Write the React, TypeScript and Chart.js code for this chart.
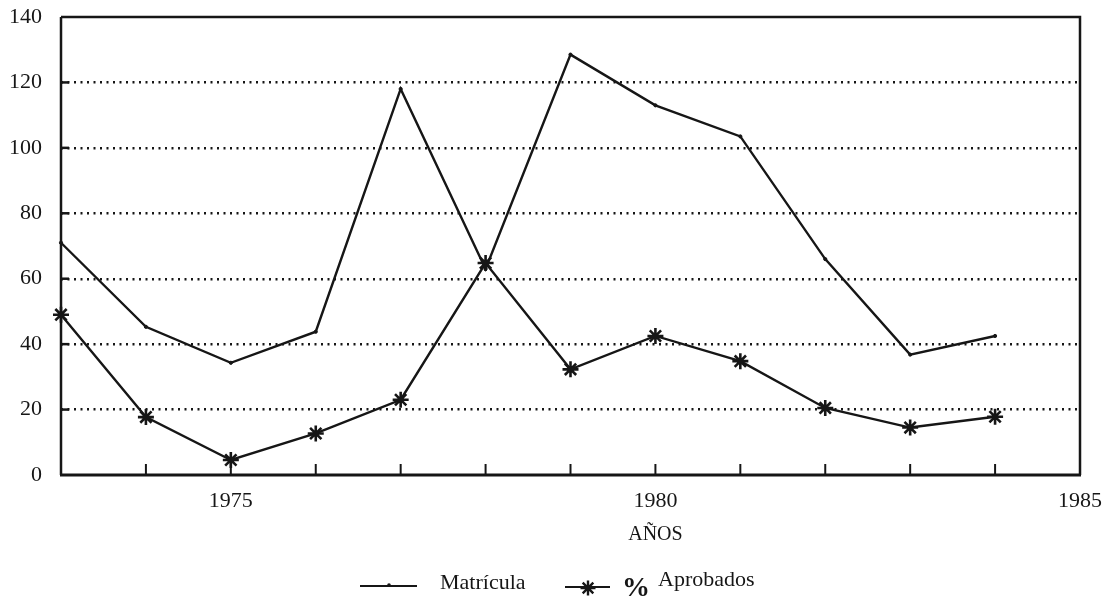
import { useEffect, useRef } from 'react';
import { Chart, registerables } from 'chart.js';

Chart.register(...registerables);

// ---- data ----
const years = [1973, 1974, 1975, 1976, 1977, 1978, 1979, 1980, 1981, 1982, 1983, 1984];
const matricula = [71, 45.3, 34.3, 43.8, 118, 63, 128.5, 113, 103.5, 66, 36.8, 42.5];
const aprobados = [49, 17.7, 4.6, 12.7, 23, 64.8, 32.3, 42.5, 34.8, 20.5, 14.5, 17.8];
const xLabeledTicks = [1975, 1980, 1985];
const xRange = [1973, 1985];
const yRange = [0, 140];
const yStep = 20;
const xTitle = 'AÑOS';
const seriesNames = ['Matrícula', 'Aprobados'];

const FONT = "'Liberation Serif', 'Times New Roman', serif";
const INK = '#161616';

function drawAsterisk(ctx: CanvasRenderingContext2D, x: number, y: number, r: number) {
  ctx.beginPath();
  for (let i = 0; i < 4; i++) {
    const a = (i * Math.PI) / 4;
    ctx.moveTo(x - r * Math.cos(a), y - r * Math.sin(a));
    ctx.lineTo(x + r * Math.cos(a), y + r * Math.sin(a));
  }
  ctx.stroke();
}

const framePlugin = {
  id: 'frame',
  beforeDatasetsDraw(chart: any) {
    const { ctx, chartArea } = chart;
    const { left, right, top, bottom } = chartArea;
    const xs = chart.scales.x;
    const ys = chart.scales.y;
    ctx.save();
    ctx.strokeStyle = INK;
    ctx.lineCap = 'butt';
    ctx.lineWidth = 2.5;
    ctx.beginPath();
    ctx.moveTo(left, top);
    ctx.lineTo(right, top);
    ctx.lineTo(right, bottom);
    ctx.stroke();
    ctx.lineWidth = 2.5;
    ctx.beginPath();
    ctx.moveTo(left, top);
    ctx.lineTo(left, bottom);
    ctx.stroke();
    ctx.lineWidth = 3;
    ctx.beginPath();
    ctx.moveTo(left - 1, bottom);
    ctx.lineTo(right + 1, bottom);
    ctx.stroke();
    ctx.lineWidth = 2;
    for (let yr = xRange[0] + 1; yr < xRange[1]; yr++) {
      const px = xs.getPixelForValue(yr);
      ctx.beginPath();
      ctx.moveTo(px, bottom);
      ctx.lineTo(px, bottom - 11);
      ctx.stroke();
    }
    ctx.lineWidth = 2.5;
    for (let v = yRange[0] + yStep; v < yRange[1]; v += yStep) {
      const py = ys.getPixelForValue(v);
      ctx.beginPath();
      ctx.moveTo(left, py);
      ctx.lineTo(left + 8, py);
      ctx.stroke();
    }
    ctx.restore();
  },
  afterDraw(chart: any) {
    const { ctx } = chart;
    const xs = chart.scales.x;
    ctx.save();
    ctx.fillStyle = INK;
    ctx.strokeStyle = INK;
    ctx.font = `20px ${FONT}`;
    ctx.textAlign = 'center';
    ctx.textBaseline = 'middle';
    ctx.fillText(xTitle, xs.getPixelForValue(1980), 535);

    ctx.lineWidth = 2.2;
    ctx.beginPath();
    ctx.moveTo(360, 586);
    ctx.lineTo(417, 586);
    ctx.stroke();
    ctx.beginPath();
    ctx.arc(389, 585, 1.8, 0, Math.PI * 2);
    ctx.fill();
    ctx.font = `22px ${FONT}`;
    ctx.textAlign = 'left';
    ctx.fillText(seriesNames[0], 440, 583);

    ctx.lineWidth = 2.2;
    ctx.beginPath();
    ctx.moveTo(565, 587);
    ctx.lineTo(610, 587);
    ctx.stroke();
    ctx.lineWidth = 2.4;
    drawAsterisk(ctx, 588, 588, 7.5);
    ctx.font = `bold 28px ${FONT}`;
    ctx.fillText('%', 622, 589);
    ctx.font = `22px ${FONT}`;
    ctx.fillText(seriesNames[1], 658, 580);
    ctx.restore();
  },
};

export default function App() {
  const ref = useRef<HTMLCanvasElement | null>(null);

  useEffect(() => {
    if (!ref.current) return;
    Chart.defaults.font.family = FONT;
    Chart.defaults.color = INK;
    const chart = new Chart(ref.current, {
      type: 'line',
      data: {
        datasets: [
          {
            label: seriesNames[0],
            data: years.map((y, i) => ({ x: y, y: matricula[i] })),
            borderColor: INK,
            backgroundColor: INK,
            borderWidth: 2.4,
            pointRadius: 1.6,
            pointBorderWidth: 1,
            tension: 0,
            clip: false as any,
          },
          {
            label: seriesNames[1],
            data: years.map((y, i) => ({ x: y, y: aprobados[i] })),
            borderColor: INK,
            backgroundColor: INK,
            borderWidth: 2.4,
            pointStyle: 'star',
            pointRadius: 8,
            pointBorderWidth: 2.6,
            tension: 0,
            clip: false as any,
          },
        ],
      },
      options: {
        responsive: false,
        animation: false,
        layout: { autoPadding: false, padding: { left: 0, top: 17, right: 29, bottom: 0 } },
        plugins: { legend: { display: false }, tooltip: { enabled: false } },
        scales: {
          x: {
            type: 'linear',
            min: xRange[0],
            max: xRange[1],
            border: { display: false },
            grid: { display: false, drawTicks: false },
            ticks: {
              stepSize: 1,
              autoSkip: false,
              maxRotation: 0,
              padding: 13,
              font: { size: 22, family: FONT },
              color: INK,
              callback: (v: any) => (xLabeledTicks.includes(Number(v)) ? String(v) : ''),
            },
            afterFit: (s: any) => {
              s.height = 121;
              s.paddingLeft = 0;
              s.paddingRight = 0;
              s.paddingTop = 0;
              s.paddingBottom = 0;
            },
          },
          y: {
            min: yRange[0],
            max: yRange[1],
            border: { display: false, dash: [2, 4.5] },
            grid: {
              drawTicks: false,
              lineWidth: 2.4,
              color: (c: any) =>
                c.tick && (c.tick.value === yRange[0] || c.tick.value === yRange[1]) ? 'rgba(0,0,0,0)' : INK,
            },
            ticks: {
              stepSize: yStep,
              padding: 19,
              font: { size: 22, family: FONT },
              color: INK,
            },
            afterFit: (s: any) => {
              s.width = 61;
              s.paddingLeft = 0;
              s.paddingRight = 0;
              s.paddingTop = 0;
              s.paddingBottom = 0;
            },
          },
        },
      } as any,
      plugins: [framePlugin],
    });
    return () => chart.destroy();
  }, []);

  return (
    <div style={{ position: 'fixed', left: 0, top: 0, width: 1109, height: 596, background: '#fff' }}>
      <canvas ref={ref} width={1109} height={596} style={{ display: 'block' }} />
    </div>
  );
}
